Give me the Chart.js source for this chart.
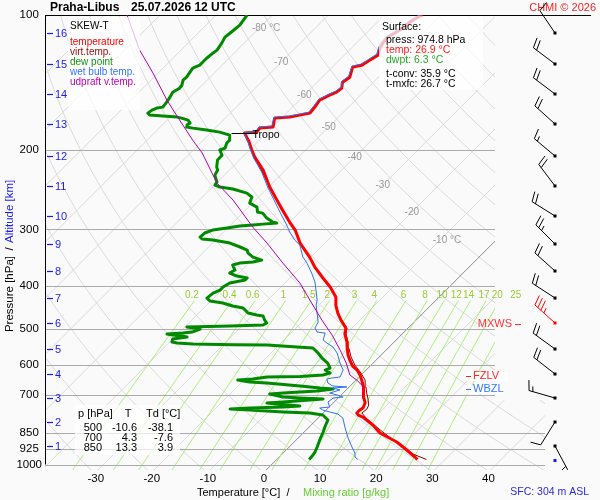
<!DOCTYPE html>
<html><head><meta charset="utf-8">
<script src="https://cdn.jsdelivr.net/npm/chart.js@4.4.1/dist/chart.umd.min.js"></script>
<style>html,body{margin:0;padding:0;background:#fafafa;}#c{display:block;}</style>
</head><body>
<canvas id="c" width="600" height="500"></canvas>
<script>
// ---------------- DATA ----------------
const TEMP_P = [974.8,962.3,928.4,891.1,851.0,816.9,784.1,776.1,768.2,756.5,748.8,729.8,711.3,693.4,672.4,648.7,632.3,616.3,604.0,585.5,570.7,550.7,534.0,512.6,497.1,477.1,460.3,441.8,424.1,402.9,384.7,363.7,345.6,321.6,300.9,288.9,271.7,258.1,241.4,221.3,207.1,199.7,191.7,183.1,182.2,178.5,177.5,169.6,168.7,167.0,165.3,160.3,154.7,150.8,148.5,145.5,141.1,137.5,130.6,129.3,127.4,122.9,118.5,115.5,112.0,108.1,103.8,101.1,100];
const TEMP_T = [25.1,24.2,21.5,18.3,13.7,11.0,7.8,6.6,6.0,6.0,6.2,5.7,4.6,3.7,2.5,1.0,-0.2,-1.6,-3.1,-4.7,-5.9,-7.3,-8.4,-10.2,-11.1,-13.4,-15.2,-17.0,-18.4,-21.2,-24.1,-27.5,-30.2,-34.4,-37.6,-40.0,-43.4,-46.2,-49.8,-54.0,-57.8,-59.6,-61.5,-63.9,-61.9,-62.1,-59.9,-61.2,-58.7,-57.3,-55.8,-56.0,-56.4,-55.5,-54.8,-54.6,-55.5,-55.1,-56.4,-55.1,-54.8,-54.0,-54.9,-55.3,-55.5,-54.6,-54.2,-53.7,-53.2];

const VIRT_P = [974.8,947.6,895.6,838.0,792.2,768.2,752.6,737.3,711.3,693.4,672.4,648.7,622.7,600.8,576.6,550.7,534.0,512.6,497.1,477.1,460.3,441.8,424.1,402.9,384.7,363.7,345.6,321.6,300.9,271.7,241.4,207.1,183.1];
const VIRT_T = [26.7,23.3,18.5,13.2,8.9,6.9,7.1,6.7,5.3,4.2,3.0,1.6,-0.7,-2.9,-5.0,-7.0,-8.2,-10.0,-10.9,-13.3,-15.1,-16.9,-18.4,-21.2,-24.1,-27.5,-30.2,-34.4,-37.6,-43.4,-49.8,-57.8,-63.9];

const DEW_P = [974.8,957.4,938.0,914.3,882.0,846.7,825.3,796.2,776.1,768.2,764.2,756.5,752.6,748.8,744.9,741.1,733.5,729.8,726.0,718.6,715.0,711.3,707.7,696.9,693.4,686.3,679.3,675.8,668.9,658.7,655.4,648.7,645.4,638.8,637.5,632.3,625.9,616.3,610.1,594.6,579.6,564.9,550.7,547.8,542.3,541.5,539.5,536.8,534.0,525.9,520.5,517.9,515.2,512.6,510.0,507.4,499.6,494.5,492.0,489.5,484.5,477.1,467.4,465.0,460.3,448.6,444.0,437.3,432.9,426.3,415.5,409.2,402.9,394.8,388.7,384.8,380.9,375.0,369.3,360.0,356.4,354.5,350.9,345.6,338.5,333.3,328.2,321.6,316.7,315.1,311.9,305.5,300.9,297.8,294.8,293.3,291.9,290.4,288.9,283.0,275.9,274.5,267.5,262.1,254.1,249.0,243.9,241.4,239.0,235.4,227.1,221.3,218.0,210.3,205.0,199.7,197.7,192.7,189.8,185.0,182.2,180.3,178.5,177.5,175.7,174.0,171.3,169.6,168.7,167.8,167.0,165.3,162.8,161.1,160.3,156.3,152.3,148.5,145.5,143.3,139.6,137.5,134.0,131.3,129.3,127.4,124.8,121.6,119.7,115.5,112.0,109.8,105.3,100];
const DEW_T = [5.8,5.7,5.5,5.0,4.2,3.4,2.8,2.1,0.3,-2.4,-7.3,-13.6,-17.3,-13.9,-8.2,-5.4,-9.8,-11.8,-9.1,-4.7,-2.5,-6.8,-10.0,-12.9,-10.7,-5.0,-2.5,-5.0,-8.9,-15.4,-18.6,-21.1,-18.6,-16.4,-10.6,-6.8,-5.9,-7.3,-6.8,-8.1,-10.0,-11.6,-13.4,-16.4,-22.1,-28.2,-35.5,-38.5,-39.6,-40.0,-37.8,-38.9,-40.7,-41.9,-39.3,-37.8,-36.9,-39.6,-32.1,-26.4,-26.1,-27.0,-28.0,-29.3,-31.2,-33.0,-35.2,-37.5,-40.1,-41.2,-41.0,-40.3,-40.3,-39.8,-37.6,-37.6,-39.8,-41.6,-41.2,-42.5,-41.6,-39.4,-38.2,-40.3,-41.9,-42.6,-44.4,-46.9,-50.5,-52.6,-53.3,-53.2,-52.3,-50.1,-48.2,-46.0,-44.4,-42.1,-43.0,-44.8,-46.4,-47.5,-48.5,-50.5,-51.2,-52.8,-56.0,-58.7,-59.9,-60.1,-61.7,-62.1,-62.8,-63.9,-64.0,-65.3,-64.7,-65.3,-65.3,-66.2,-68.5,-71.2,-74.0,-75.3,-75.6,-75.4,-76.3,-77.8,-78.8,-81.5,-84.0,-84.7,-84.5,-84.0,-83.1,-83.3,-83.6,-84.0,-83.5,-83.6,-84.3,-84.2,-84.5,-84.7,-84.0,-84.0,-84.0,-83.8,-83.6,-84.0,-84.5,-84.3,-84.0,-84.5];

const WB_P = [974.8,962.3,942.8,914.3,873.0,829.5,788.1,772.1,764.2,756.5,748.8,744.9,726.0,711.3,707.7,700.5,693.4,682.8,675.8,672.4,668.9,658.7,645.4,642.1,638.8,616.3,594.6,564.9,547.8,536.8,528.6,510.0,507.4,497.1,482.0,460.3,441.8,430.7,392.7,375.0,356.4,345.6,324.9,316.7,304.0,293.3,274.5,258.1,242.7,223.6,208.2,199.7,191.7,183.1,181.2,177.5,176.6,168.7,167.8,166.2,164.5,159.5,153.9,150.0,147.7,144.7,140.4,136.8,129.9,128.7,126.7,122.2,117.9,114.9,111.4,107.5,103.2,100.6,100];
const WB_T = [14.4,13.5,12.8,11.2,8.9,6.6,4.4,2.8,1.0,-0.6,-1.5,0.1,-1.1,-0.9,0.7,-0.7,-2.4,-1.1,-2.7,-0.4,-3.1,-4.5,-5.4,-4.7,-3.4,-4.1,-5.9,-8.2,-10.0,-11.8,-13.0,-13.9,-15.5,-16.6,-17.1,-18.9,-20.5,-21.2,-24.8,-27.0,-29.6,-31.4,-34.1,-35.9,-38.2,-40.0,-43.5,-46.7,-49.9,-53.9,-57.8,-59.8,-61.7,-64.0,-62.2,-62.4,-60.3,-61.5,-59.0,-57.6,-56.2,-56.4,-56.7,-55.8,-55.1,-54.9,-55.8,-55.5,-56.7,-55.5,-55.1,-54.4,-55.3,-55.7,-55.8,-54.9,-54.6,-54.0,-53.5];

const PARCEL_P = [672.4,648.7,632.3,594.6,556.3,515.2,477.1,430.7,394.8,356.4,321.6,296.3,258.1,236.6,202.8,189.8,171.3,154.7,134.7,119.7,100];
const PARCEL_T = [2.6,0.1,-2.0,-4.8,-8.2,-12.3,-16.8,-22.5,-27.3,-33.9,-40.3,-45.7,-54.0,-59.9,-67.9,-71.9,-77.8,-83.6,-90.9,-97.4,-105.9];

const P_TICKS = [100,200,300,400,500,600,700,850,925,1000];
const T_TICKS = [-30,-20,-10,0,10,20,30,40];
const ISO_LABEL_T = [-80,-70,-60,-50,-40,-30,-20,-10];
const ISO_LABEL_P = [107,127.4,150.8,177.5,207.1,239.0,274.5,316.7];
const MIX_W = [0.2,0.4,0.6,1,1.5,2,3,4,6,8,10,12,14,17,20,25];
const ALT_KM = [1,2,3,4,5,6,7,8,9,10,11,12,13,14,15,16];
const ALT_P  = [907.3,804.4,711.3,627.5,553.5,484.5,425.2,371.2,323.3,279.4,240.2,205.5,174.9,150.0,128.7,109.8];
const WIND_DIR = [152,212,286,308,306,312,303,312,315,302,323,310,312,307,307,326];
const WIND_SPD = [5,10,15,20,20,35,20,20,25,20,20,15,20,20,20,10];
const MXWS_P = 487, FZLV_P = 635.5, WBZL_P = 679.3, TROPO_P = 183.1, TROPO_T = -63.9, SFC_P = 974.8;
const TABLE_ROWS = [["500","-10.6","-38.1"],["700","4.3","-7.6"],["850","13.3","3.9"]];

// ---------------- HELPERS ----------------
const FONT = '"Liberation Sans", Arial, Helvetica, sans-serif';
const SKEW = 80.12, P_REF = 1040;
function skx(t,p){ return t + SKEW*Math.log10(P_REF/p); }
function pts(P,T){ return P.map((p,i)=>({x:skx(T[i],p), y:p})); }
function tdMix(w,p){ const e=w*p/(622+w); const l=Math.log(e/6.112); return 243.5*l/(17.67-l); }

function txt(ctx,s,x,y,color,size,opts){
  opts=opts||{};
  ctx.font=(opts.bold?'bold ':'')+size+'px '+FONT;
  ctx.fillStyle=color; ctx.textAlign=opts.align||'left'; ctx.textBaseline='middle';
  ctx.fillText(s,x,y);
}
function box(ctx,x1,y1,x2,y2){ ctx.fillStyle='rgba(255,255,255,0.72)'; ctx.fillRect(x1,y1,x2-x1,y2-y1); }

function drawBarb(ctx,cx,cy,dir,spd,color){
  const r=dir*Math.PI/180, ux=Math.sin(r), uy=-Math.cos(r);
  const L=27, ex=cx+ux*L, ey=cy+uy*L, px=-uy, py=ux;
  ctx.strokeStyle=color; ctx.lineWidth=1;
  ctx.beginPath(); ctx.moveTo(cx,cy); ctx.lineTo(ex,ey);
  const n10=Math.floor(spd/10), n5=Math.round((spd%10)/5);
  let pos=0;
  for(let i=0;i<n10;i++){ const bx=ex-ux*pos, by=ey-uy*pos; ctx.moveTo(bx,by); ctx.lineTo(bx+px*10+ux*3,by+py*10+uy*3); pos+=4; }
  if(n5){ if(n10===0) pos=4; const bx=ex-ux*pos, by=ey-uy*pos; ctx.moveTo(bx,by); ctx.lineTo(bx+px*5+ux*1.5,by+py*5+uy*1.5); }
  ctx.stroke();
  ctx.fillStyle=color; ctx.fillRect(cx-1.5,cy-1.5,3,3);
}

const skewPlugin = {
  id:'skew',
  beforeDraw(chart){ const c=chart.ctx; c.save(); c.fillStyle='#fafafa'; c.fillRect(0,0,chart.width,chart.height); c.restore(); },
  beforeDatasetsDraw(chart){
    const ctx=chart.ctx, xs=chart.scales.x, ys=chart.scales.y, a=chart.chartArea;
    const X=(t,p)=>xs.getPixelForValue(skx(t,p)), Y=p=>ys.getPixelForValue(p);
    const yBot=Y(1028), yExt=Y(720), xExt=a.right+50;
    ctx.save();
    ctx.beginPath();
    ctx.moveTo(a.left,a.top); ctx.lineTo(a.right,a.top); ctx.lineTo(a.right,yExt); ctx.lineTo(xExt,yExt);
    ctx.lineTo(xExt,yBot); ctx.lineTo(a.left,yBot); ctx.closePath(); ctx.clip();
    const N=60, pTop=100, pB=1045;
    const curve=(fT)=>{ ctx.beginPath(); for(let k=0;k<=N;k++){ const p=pB*Math.pow(pTop/pB,k/N); const t=fT(p); const x=X(t,p), y=Y(p); if(k===0) ctx.moveTo(x,y); else ctx.lineTo(x,y);} ctx.stroke(); };
    // dry adiabats
    ctx.strokeStyle='#dadada'; ctx.lineWidth=1;
    for(let th=200; th<=500; th+=10){ curve(p=>th*Math.pow(p/1000,0.2857)-273.15); }
    // isotherms
    for(let t=-160;t<=60;t+=10){ if(t===0) continue; ctx.beginPath(); ctx.moveTo(X(t,pB),Y(pB)); ctx.lineTo(X(t,pTop),Y(pTop)); ctx.stroke(); }
    ctx.strokeStyle='#808080'; ctx.lineWidth=0.9;
    ctx.beginPath(); ctx.moveTo(X(0,pB),Y(pB)); ctx.lineTo(X(0,pTop),Y(pTop)); ctx.stroke();
    // mixing ratio lines
    ctx.strokeStyle='#aaf07a'; ctx.lineWidth=1;
    MIX_W.forEach(w=>{ ctx.beginPath(); for(let k=0;k<=20;k++){ const p=pB*Math.pow(432/pB,k/20); const x=X(tdMix(w,p),p), y=Y(p); if(k===0) ctx.moveTo(x,y); else ctx.lineTo(x,y);} ctx.stroke(); });
    ctx.restore();
    // mixing labels
    ctx.save();
    MIX_W.forEach(w=>{ txt(ctx,String(w),X(tdMix(w,440),440),Y(420),'#9acd32',10,{align:'center'}); });
    // isotherm labels
    ctx.font='10px '+FONT;
    ISO_LABEL_T.forEach((t,i)=>{ const p=ISO_LABEL_P[i]; const s=String(t); ctx.font='10px '+FONT; const w=ctx.measureText(s).width;
      const lab=(i===0||i===ISO_LABEL_T.length-1)? s+' °C' : s;
      txt(ctx,lab,X(t,p)-w/2,Y(p),'#9a9a9a',10); });
    // pressure lines
    P_TICKS.forEach(p=>{ const y=Math.round(Y(p))+0.5;
      ctx.beginPath(); ctx.lineWidth=1;
      if(p===100){ ctx.strokeStyle='#000'; ctx.moveTo(a.left,y); ctx.lineTo(591,y); }
      else { ctx.strokeStyle='#aaaaaa'; ctx.moveTo(a.left,y); ctx.lineTo(p>=850?xExt:a.right,y); }
      ctx.stroke(); });
    // left axis
    ctx.strokeStyle='#000'; ctx.beginPath(); ctx.moveTo(a.left+0.5,a.top); ctx.lineTo(a.left+0.5,a.bottom); ctx.stroke();
    ctx.restore();
  },
  afterDatasetsDraw(chart){
    const ctx=chart.ctx, xs=chart.scales.x, ys=chart.scales.y, a=chart.chartArea;
    const X=(t,p)=>xs.getPixelForValue(skx(t,p)), Y=p=>ys.getPixelForValue(p);
    ctx.save();
    // boxes
    box(ctx,68,17,140,110);
    box(ctx,379,16,483,90);
    box(ctx,75,405,180,455);
    box(ctx,465,372,508,381);
    box(ctx,465,385,503,394);
    // title
    txt(ctx,'Praha-Libus',50,7.5,'#000',12,{bold:true});
    txt(ctx,'25.07.2026 12 UTC',131,7.5,'#000',12,{bold:true});
    txt(ctx,'CHMI © 2026',596,7.5,'#ff2020',11,{align:'right'});
    // legend
    txt(ctx,'SKEW-T',70,26,'#000',10);
    txt(ctx,'temperature',70,42,'#ff0000',10);
    txt(ctx,'virt.temp.',70,52,'#a01010',10);
    txt(ctx,'dew point',70,62,'#119911',10);
    txt(ctx,'wet bulb temp.',70,72,'#3377ff',10);
    txt(ctx,'udpraft v.temp.',70,82,'#bb00bb',10);
    // surface box
    txt(ctx,'Surface:',382,27.5,'#000',10.5);
    txt(ctx,'press: 974.8 hPa',386,40,'#000',10.5);
    txt(ctx,'temp: 26.9 °C',386,50.5,'#ff1a1a',10.5);
    txt(ctx,'dwpt: 6.3 °C',386,60.5,'#22aa22',10.5);
    txt(ctx,'t-conv: 35.9 °C',386,74.5,'#000',10.5);
    txt(ctx,'t-mxfc: 26.7 °C',386,84.5,'#000',10.5);
    // tropopause
    const tx=X(TROPO_T,TROPO_P), ty=Math.round(Y(TROPO_P))+0.5;
    ctx.strokeStyle='#000'; ctx.lineWidth=1; ctx.beginPath(); ctx.moveTo(tx-13,ty); ctx.lineTo(tx+13,ty); ctx.stroke();
    txt(ctx,'Tropo',tx+8,ty+2,'#000',10.5);
    // table
    txt(ctx,'p [hPa]',78,414,'#000',11);
    txt(ctx,'T',128,414,'#000',11,{align:'center'});
    txt(ctx,'Td [°C]',146,414,'#000',11);
    TABLE_ROWS.forEach((r,i)=>{ const y=428+i*10; txt(ctx,r[0],102,y,'#000',11,{align:'right'}); txt(ctx,r[1],137,y,'#000',11,{align:'right'}); txt(ctx,r[2],173,y,'#000',11,{align:'right'}); });
    // levels
    let y=Y(MXWS_P);
    txt(ctx,'MXWS',512,y,'#ff3333',11,{align:'right'});
    ctx.strokeStyle='#ff3333'; ctx.beginPath(); ctx.moveTo(515,Math.round(y)+0.5); ctx.lineTo(521,Math.round(y)+0.5); ctx.stroke();
    y=Y(FZLV_P);
    ctx.strokeStyle='#ff2222'; ctx.beginPath(); ctx.moveTo(466,Math.round(y)+0.5); ctx.lineTo(471,Math.round(y)+0.5); ctx.stroke();
    txt(ctx,'FZLV',473,y,'#ff2222',11);
    y=Y(WBZL_P);
    ctx.strokeStyle='#3377ff'; ctx.beginPath(); ctx.moveTo(466,Math.round(y)+0.5); ctx.lineTo(471,Math.round(y)+0.5); ctx.stroke();
    txt(ctx,'WBZL',473,y,'#3377ff',11);
    // altitude ticks
    ALT_KM.forEach((k,i)=>{ const yy=Math.round(Y(ALT_P[i]))+0.5;
      ctx.strokeStyle='#1a1aee'; ctx.lineWidth=1.2; ctx.beginPath(); ctx.moveTo(47,yy); ctx.lineTo(53,yy); ctx.stroke();
      txt(ctx,String(k),55,yy,'#1a1aee',11); });
    // wind barbs
    ALT_P.forEach((p,i)=>{ drawBarb(ctx,555,Math.round(Y(p)),WIND_DIR[i],WIND_SPD[i], Math.abs(p-MXWS_P)<5?'#ff0000':'#000'); });
    ctx.fillStyle='#1a1aee'; ctx.fillRect(553.5,Y(SFC_P)-0.5,3,3);
    txt(ctx,'SFC: 304 m ASL',589,492,'#2a2ae0',10.5,{align:'right'});
    // axis titles
    txt(ctx,'Temperature [°C]',197,493,'#000',11);
    txt(ctx,'/',288,493,'#000',11,{align:'center'});
    txt(ctx,'Mixing ratio [g/kg]',303,493,'#66cc33',11);
    ctx.save(); ctx.translate(10,0); ctx.rotate(-Math.PI/2);
    ctx.font='11.5px '+FONT; ctx.textBaseline='middle';
    ctx.fillStyle='#000'; ctx.textAlign='right'; ctx.fillText('Pressure [hPa]',-256,0);
    ctx.textAlign='center'; ctx.fillText('/',-249,0);
    ctx.fillStyle='#1a1aee'; ctx.textAlign='left'; ctx.fillText('Altitude [km]',-243,0);
    ctx.restore();
    ctx.restore();
  }
};

const line=(label,data,color,w)=>({label,data,showLine:true,borderColor:color,backgroundColor:color,borderWidth:w,pointRadius:0,tension:0,fill:false,borderJoinStyle:'round'});

new Chart(document.getElementById('c'),{
  type:'scatter',
  data:{datasets:[
    line('updraft',pts(PARCEL_P,PARCEL_T),'#b000b0',1),
    line('wetbulb',pts(WB_P,WB_T),'#2f73ee',1),
    line('temperature',pts(TEMP_P,TEMP_T),'#ff0000',3),
    line('virt',pts(VIRT_P,VIRT_T),'#8b0000',1),
    line('dew',pts(DEW_P,DEW_T),'#008a00',3)
  ]},
  options:{
    responsive:false, animation:false, devicePixelRatio:1,
    layout:{padding:{top:15,right:105,bottom:0,left:0}},
    plugins:{legend:{display:false},tooltip:{enabled:false}},
    scales:{
      x:{type:'linear',min:-39.04,max:41.18,
        grid:{display:false,drawTicks:false},border:{display:false},
        afterBuildTicks:s=>{s.ticks=T_TICKS.map(v=>({value:v}));},
        afterFit:s=>{s.height=35.5;},
        ticks:{autoSkip:false,maxRotation:0,padding:7,color:'#000',font:{family:FONT,size:11.5},callback:v=>String(v)}},
      y:{type:'logarithmic',reverse:true,min:100,max:1000,position:'left',
        grid:{display:false,drawTicks:false},border:{display:false},
        afterBuildTicks:s=>{s.ticks=P_TICKS.map(v=>({value:v}));},
        afterFit:s=>{s.width=45;},
        ticks:{autoSkip:false,crossAlign:'center',padding:3,color:'#000',font:{family:FONT,size:11.5},callback:v=>String(v)}}
    }
  },
  plugins:[skewPlugin]
});
</script>
</body></html>
